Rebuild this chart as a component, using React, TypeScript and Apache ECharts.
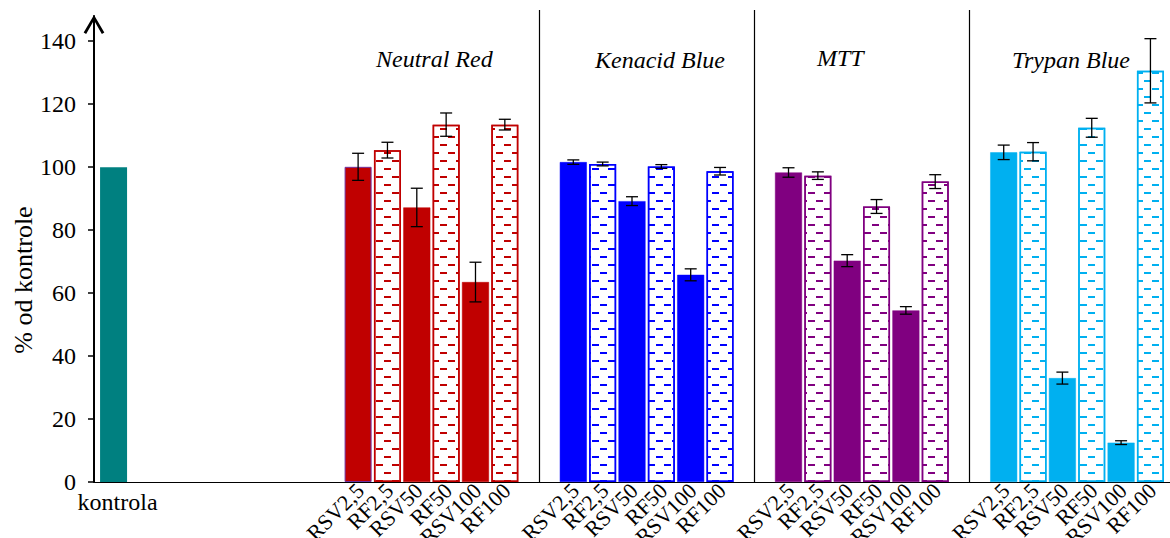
import React, { useEffect, useRef } from 'react';
import * as echarts from 'echarts';

// ---- data ----
const groups = ['Neutral Red', 'Kenacid Blue', 'MTT', 'Trypan Blue'];
const treatments = ['RSV2,5', 'RF2,5', 'RSV50', 'RF50', 'RSV100', 'RF100'];
const controlLabel = 'kontrola';
const controlValue = 100;
const neutralRed = [100.1, 105.4, 87.2, 113.5, 63.5, 113.5];
const neutralRedErr = [4.3, 2.5, 6.1, 3.7, 6.3, 1.7];
const kenacidBlue = [101.6, 101.0, 89.2, 100.2, 65.8, 98.7];
const kenacidBlueErr = [0.7, 0.6, 1.4, 0.6, 1.9, 1.2];
const mtt = [98.3, 97.3, 70.3, 87.5, 54.5, 95.4];
const mttErr = [1.5, 1.2, 1.9, 2.2, 1.2, 2.2];
const trypanBlue = [104.7, 104.9, 33.0, 112.5, 12.5, 130.6];
const trypanBlueErr = [2.3, 2.9, 1.9, 3.0, 0.6, 10.2];
const yTicks = [0, 20, 40, 60, 80, 100, 120, 140];
const yAxisTitle = '% od kontrole';

// ---- styling / layout ----
const groupValues = [neutralRed, kenacidBlue, mtt, trypanBlue];
const groupErrors = [neutralRedErr, kenacidBlueErr, mttErr, trypanBlueErr];
const groupColors = ['#C00000', '#0000FF', '#800080', '#00B0F0'];
const controlColor = '#008080';
const FONT = 'Liberation Serif';
const CONTROL_SLOT = 2;
const FIRST_GROUP_SLOT = 27;
const GROUP_STRIDE = 22;
const BAR_STRIDE = 3;
const X_MAX = 110;
const BAR_W = 27;
const titlePos = [
  [376, 59],
  [595, 60],
  [817, 58],
  [1012, 60],
];

const slotOf = (g: number, i: number) => FIRST_GROUP_SLOT + g * GROUP_STRIDE + i * BAR_STRIDE;

export default function App() {
  const ref = useRef<HTMLDivElement>(null);

  useEffect(() => {
    if (!ref.current) return;
    const chart = echarts.init(ref.current, null, { renderer: 'svg' });

    // category labels placed on the x scale
    const labelItems: { value: number[]; name: string; rot: boolean }[] = [
      { value: [CONTROL_SLOT, 0], name: controlLabel, rot: false },
    ];
    groups.forEach((_, g) =>
      treatments.forEach((t, i) => labelItems.push({ value: [slotOf(g, i), 0], name: t, rot: true }))
    );

    const series: any[] = [];
    series.push({
      type: 'bar',
      name: controlLabel,
      barWidth: BAR_W,
      barGap: '-100%',
      data: [[CONTROL_SLOT, controlValue]],
      itemStyle: { color: controlColor },
    });

    groups.forEach((gName, g) => {
      const c = groupColors[g];
      const solid: any[] = [];
      const hatched: any[] = [];
      groupValues[g].forEach((v, i) => {
        const item: any = { value: [slotOf(g, i), v] };
        if (i % 2 === 0) {
          if (g === 0 && i === 0) item.itemStyle = { borderColor: '#7030A0', borderWidth: 1 };
          solid.push(item);
        } else hatched.push(item);
      });
      series.push({
        type: 'bar',
        name: gName + ' RSV',
        barWidth: BAR_W,
        barGap: '-100%',
        data: solid,
        itemStyle: { color: c, borderColor: c, borderWidth: 0.5 },
      });
      series.push({
        type: 'bar',
        name: gName + ' RF',
        barWidth: BAR_W,
        barGap: '-100%',
        data: hatched,
        itemStyle: {
          color: '#ffffff',
          borderColor: c,
          borderWidth: 1.5,
          decal: {
            symbol: 'rect',
            symbolSize: 1,
            dashArrayX: [
              [7, 9],
              [0, 8, 7, 1],
            ],
            dashArrayY: [2, 6],
            color: c,
          },
        },
      });
    });

    const errData: number[][] = [];
    groups.forEach((_, g) =>
      groupValues[g].forEach((v, i) => {
        const e = groupErrors[g][i];
        errData.push([slotOf(g, i), v - e, v + e]);
      })
    );
    series.push({
      type: 'custom',
      name: 'error',
      z: 5,
      encode: { x: 0, y: [1, 2] },
      data: errData,
      renderItem: (params: any, api: any) => {
        const x = api.value(0);
        const top = api.coord([x, api.value(2)]);
        const bot = api.coord([x, api.value(1)]);
        const hw = 6;
        const style = { stroke: '#000', lineWidth: 1.3 };
        return {
          type: 'group',
          children: [
            { type: 'line', shape: { x1: top[0], y1: top[1], x2: bot[0], y2: bot[1] }, style },
            { type: 'line', shape: { x1: top[0] - hw, y1: top[1], x2: top[0] + hw, y2: top[1] }, style },
            { type: 'line', shape: { x1: bot[0] - hw, y1: bot[1], x2: bot[0] + hw, y2: bot[1] }, style },
          ],
        };
      },
    });

    series.push({
      type: 'custom',
      name: 'labels',
      clip: false,
      silent: true,
      z: 6,
      encode: { x: 0, y: 1 },
      data: labelItems.map((d) => ({ value: d.value, name: d.name })),
      renderItem: (params: any, api: any) => {
        const item = labelItems[params.dataIndex];
        const p = api.coord([api.value(0), 0]);
        if (!item.rot) {
          return {
            type: 'text',
            x: p[0] + 4,
            y: p[1] + 20,
            style: {
              text: item.name,
              font: `24px ${FONT}`,
              fill: '#000',
              textAlign: 'center',
              textVerticalAlign: 'middle',
            },
          };
        }
        return {
          type: 'text',
          x: p[0] + 2,
          y: p[1] + 5,
          rotation: Math.PI / 4,
          style: {
            text: item.name,
            font: `22px ${FONT}`,
            fill: '#000',
            textAlign: 'right',
            textVerticalAlign: 'middle',
          },
        };
      },
    });

    chart.setOption({
      animation: false,
      textStyle: { fontFamily: FONT },
      grid: { left: 94, right: 0, top: 16, bottom: 56, containLabel: false, outerBoundsMode: 'none' },
      xAxis: {
        type: 'value',
        min: 0,
        max: X_MAX,
        splitLine: { show: false },
        axisTick: { show: false },
        axisLabel: { show: false },
        axisLine: { lineStyle: { color: '#000', width: 1 } },
      },
      yAxis: {
        type: 'value',
        min: 0,
        max: 148,
        splitLine: { show: false },
        axisLine: {
          show: true,
          symbol: ['none', 'path://M0,17 L10,0 L20,17 L17.6,18.4 L10,5 L2.4,18.4 Z'],
          symbolSize: [21, 19],
          symbolOffset: [0, -8.5],
          lineStyle: { color: '#000', width: 2 },
        },
        axisTick: {
          show: true,
          length: 6,
          customValues: yTicks,
          lineStyle: { color: '#000', width: 1.5 },
        },
        axisLabel: {
          customValues: yTicks,
          fontFamily: FONT,
          fontSize: 24,
          color: '#000',
          margin: 18,
        },
      },
      series,
    });

    // separators between test groups, group titles and the y axis title
    const graphic: any[] = [];
    const y0 = chart.convertToPixel({ yAxisIndex: 0 }, 0) as number;
    for (let g = 0; g < groups.length - 1; g++) {
      const mid = (slotOf(g, treatments.length - 1) + slotOf(g + 1, 0)) / 2;
      const px = Math.round(chart.convertToPixel({ xAxisIndex: 0 }, mid) as number) + 0.5;
      graphic.push({
        type: 'line',
        shape: { x1: px, y1: 10, x2: px, y2: y0 },
        style: { stroke: '#000', lineWidth: 1.2 },
        silent: true,
      });
    }
    groups.forEach((gName, g) => {
      graphic.push({
        type: 'text',
        x: titlePos[g][0],
        y: titlePos[g][1],
        style: {
          text: gName,
          font: `italic 24px ${FONT}`,
          fill: '#000',
          textAlign: 'left',
          textVerticalAlign: 'middle',
        },
        silent: true,
      });
    });
    graphic.push({
      type: 'text',
      x: 23,
      y: 280,
      rotation: Math.PI / 2,
      style: {
        text: yAxisTitle,
        font: `26px ${FONT}`,
        fill: '#000',
        textAlign: 'center',
        textVerticalAlign: 'middle',
      },
      silent: true,
    });
    chart.setOption({ graphic });

    return () => chart.dispose();
  }, []);

  return (
    <div
      ref={ref}
      style={{ position: 'absolute', left: 0, top: 0, width: 1170, height: 538, background: '#fff' }}
    />
  );
}
